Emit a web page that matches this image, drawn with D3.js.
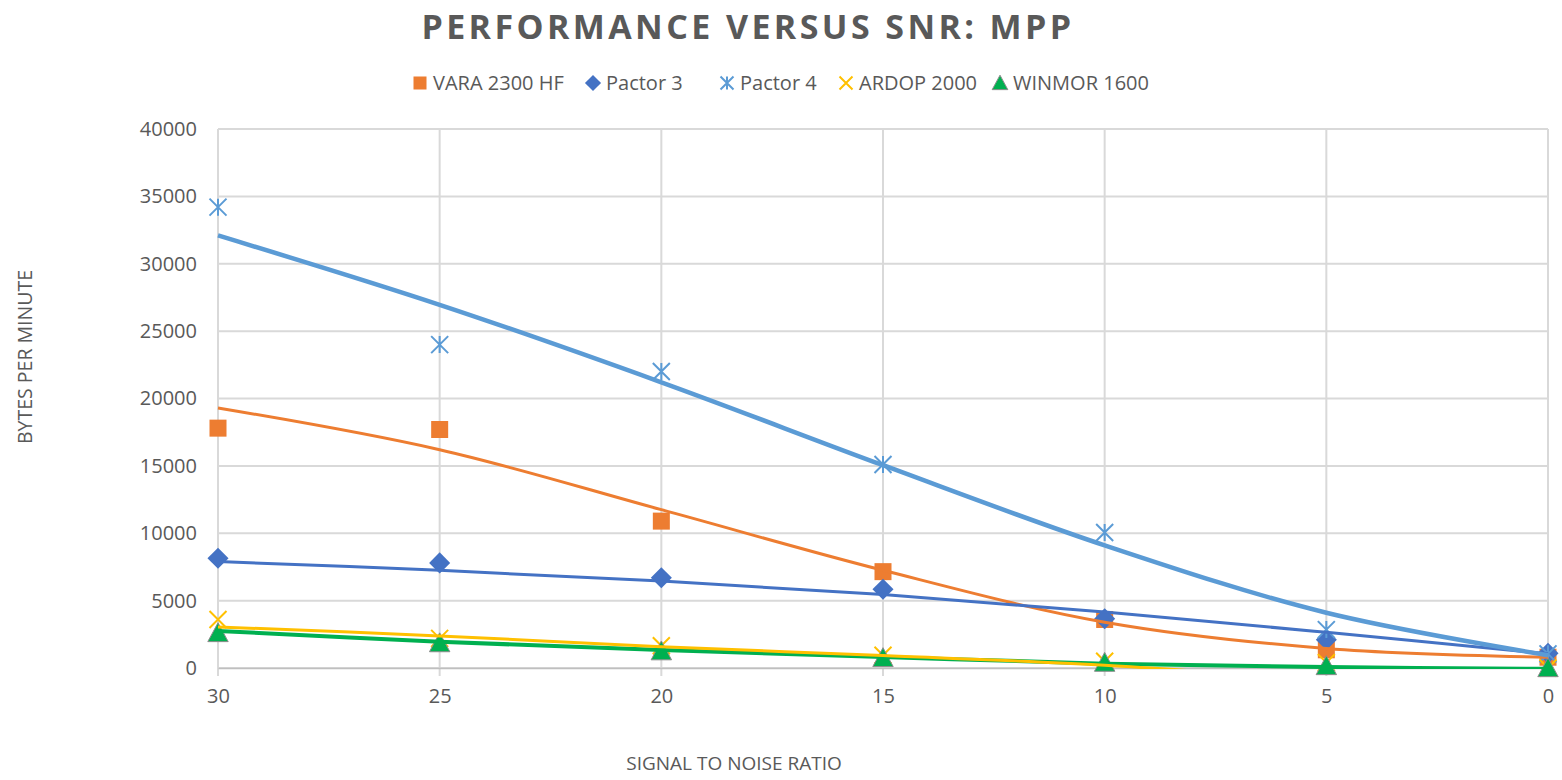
<!DOCTYPE html>
<html>
<head>
<meta charset="utf-8">
<script src="https://cdn.jsdelivr.net/npm/d3@7"></script>
<style>
  body { margin: 0; background: #fff; }
  svg text { font-family: "Open Sans", "Liberation Sans", sans-serif; fill: #595959; }
</style>
</head>
<body>
<svg id="chart" width="1562" height="780"></svg>
<script>
// SNR values on the x axis (axis runs 30 -> 0)
const snr = [30, 25, 20, 15, 10, 5, 0];

const vara = [17800, 17700, 10900, 7150, 3600, 1350, 800];
const pactor3 = [8150, 7800, 6700, 5850, 3650, 2100, 1100];
const pactor4 = [34200, 24000, 22000, 15100, 10050, 2850, 1050];
const ardop = [3600, 2200, 1650, 950, 500, 400, 0];
const winmor = [2600, 1850, 1250, 750, 400, 150, 0];

// trendline values at each SNR tick
// (values below 0 fall outside the plot and are clipped, as in the original)
const varaTrend = [19300, 16200, 11750, 7250, 3400, 1450, 800];
const pactor3Trend = [7900, 7250, 6450, 5450, 4150, 2650, 1050];
const pactor4Trend = [32100, 26950, 21200, 15050, 9100, 4100, 950];
const ardopTrend = [3050, 2380, 1580, 930, 200, -900, -1900];
const winmorTrend = [2750, 1950, 1330, 820, 320, 70, -60];

const seriesNames = ['VARA 2300 HF', 'Pactor 3', 'Pactor 4', 'ARDOP 2000', 'WINMOR 1600'];
const seriesColors = ['#ED7D31', '#4472C4', '#5B9BD5', '#FFC000', '#00B050'];
const seriesShapes = ['square', 'diamond', 'star', 'x', 'triangle'];
const seriesValues = [vara, pactor3, pactor4, ardop, winmor];
const seriesTrends = [varaTrend, pactor3Trend, pactor4Trend, ardopTrend, winmorTrend];
const lineWidths = [3, 3, 4.5, 3, 4];

const yTicks = [0, 5000, 10000, 15000, 20000, 25000, 30000, 35000, 40000];

const svg = d3.select('#chart');
const plot = { left: 218, right: 1548, top: 129, bottom: 668 };

const x = d3.scaleLinear().domain([30, 0]).range([plot.left, plot.right]);
const y = d3.scaleLinear().domain([0, 40000]).range([plot.bottom, plot.top]);

// title
svg.append('text')
  .attr('x', 748).attr('y', 39)
  .attr('text-anchor', 'middle')
  .attr('font-size', 34).attr('font-weight', 'bold')
  .attr('letter-spacing', 3.4)
  .text('PERFORMANCE VERSUS SNR: MPP');

// gridlines
const grid = svg.append('g');
grid.selectAll('line.h').data(yTicks).enter().append('line')
  .attr('x1', plot.left).attr('x2', plot.right)
  .attr('y1', d => y(d)).attr('y2', d => y(d))
  .attr('stroke', '#d9d9d9').attr('stroke-width', 2);
grid.selectAll('line.v').data(snr).enter().append('line')
  .attr('x1', d => x(d)).attr('x2', d => x(d))
  .attr('y1', plot.top).attr('y2', plot.bottom + 8)
  .attr('stroke', '#d9d9d9').attr('stroke-width', 2);

// axes (labels only, Excel style)
const yAxis = svg.append('g').attr('transform', `translate(${plot.left},0)`)
  .call(d3.axisLeft(y).tickValues(yTicks).tickSize(0).tickPadding(21).tickFormat(d3.format('d')));
yAxis.select('.domain').remove();
yAxis.selectAll('text').attr('font-size', 20).style('font-family', '"Open Sans", sans-serif').attr('fill', '#595959');

const xAxis = svg.append('g').attr('transform', `translate(0,${plot.bottom})`)
  .call(d3.axisBottom(x).tickValues(snr).tickSize(0).tickPadding(21).tickFormat(d3.format('d')));
xAxis.select('.domain').attr('stroke', '#bfbfbf').attr('stroke-width', 1.5);
xAxis.selectAll('text').attr('font-size', 20).style('font-family', '"Open Sans", sans-serif').attr('fill', '#595959');

// axis titles
svg.append('text')
  .attr('transform', 'translate(32,357) rotate(-90)')
  .attr('text-anchor', 'middle').attr('font-size', 19.5)
  .text('BYTES PER MINUTE');
svg.append('text')
  .attr('x', 734).attr('y', 770)
  .attr('text-anchor', 'middle').attr('font-size', 19)
  .text('SIGNAL TO NOISE RATIO');

// clip for trendlines: they stop where they leave the plot, as in Excel
svg.append('clipPath').attr('id', 'plotclip').append('rect')
  .attr('x', plot.left - 5).attr('y', plot.top - 5)
  .attr('width', plot.right - plot.left + 10).attr('height', plot.bottom - plot.top + 6);

function drawMarker(g, shape, color, s) {
  if (shape === 'square') {
    g.append('rect').attr('x', -s / 2).attr('y', -s / 2).attr('width', s).attr('height', s).attr('fill', color);
  } else if (shape === 'diamond') {
    const r = s * 0.62;
    g.append('path').attr('d', `M0,${-r}L${r},0L0,${r}L${-r},0Z`).attr('fill', color);
  } else if (shape === 'triangle') {
    const r = s * 0.6;
    g.append('path').attr('d', `M0,${-r}L${r},${r * 0.85}L${-r},${r * 0.85}Z`)
      .attr('fill', color).attr('stroke', '#8c8c8c').attr('stroke-width', 1);
  } else if (shape === 'x') {
    const r = s / 2;
    g.append('path').attr('d', `M${-r},${-r}L${r},${r}M${-r},${r}L${r},${-r}`)
      .attr('stroke', color).attr('stroke-width', 2).attr('fill', 'none');
  } else if (shape === 'star') {
    const r = s / 2;
    g.append('path').attr('d', `M${-r},${-r}L${r},${r}M${-r},${r}L${r},${-r}M0,${-r}L0,${r}`)
      .attr('stroke', color).attr('stroke-width', 2).attr('fill', 'none');
  }
}

// markers first, trendlines on top (as in the picture)
const markerLayer = svg.append('g');
const lineLayer = svg.append('g').attr('clip-path', 'url(#plotclip)');

seriesValues.forEach((vals, si) => {
  const mg = markerLayer.append('g');
  vals.forEach((v, i) => {
    const g = mg.append('g').attr('transform', `translate(${x(snr[i])},${y(v)})`);
    drawMarker(g, seriesShapes[si], seriesColors[si], 17);
  });
});

const trendLine = d3.line()
  .x((d, i) => x(snr[i]))
  .y(d => y(d))
  .curve(d3.curveCatmullRom.alpha(0.5));

// draw order: green, yellow, orange, dark blue, light blue
[4, 3, 0, 1, 2].forEach(si => {
  lineLayer.append('path')
    .datum(seriesTrends[si])
    .attr('d', trendLine)
    .attr('fill', 'none')
    .attr('stroke', seriesColors[si])
    .attr('stroke-width', lineWidths[si]);
});

// legend
const legendX = [420, 593, 727, 846, 1000];
const legend = svg.append('g');
seriesNames.forEach((name, i) => {
  const g = legend.append('g').attr('transform', `translate(${legendX[i]},83)`);
  drawMarker(g.append('g'), seriesShapes[i], seriesColors[i], 13);
  g.append('text').attr('x', 13).attr('y', 7).attr('font-size', 20).text(name);
});
</script>
</body>
</html>
